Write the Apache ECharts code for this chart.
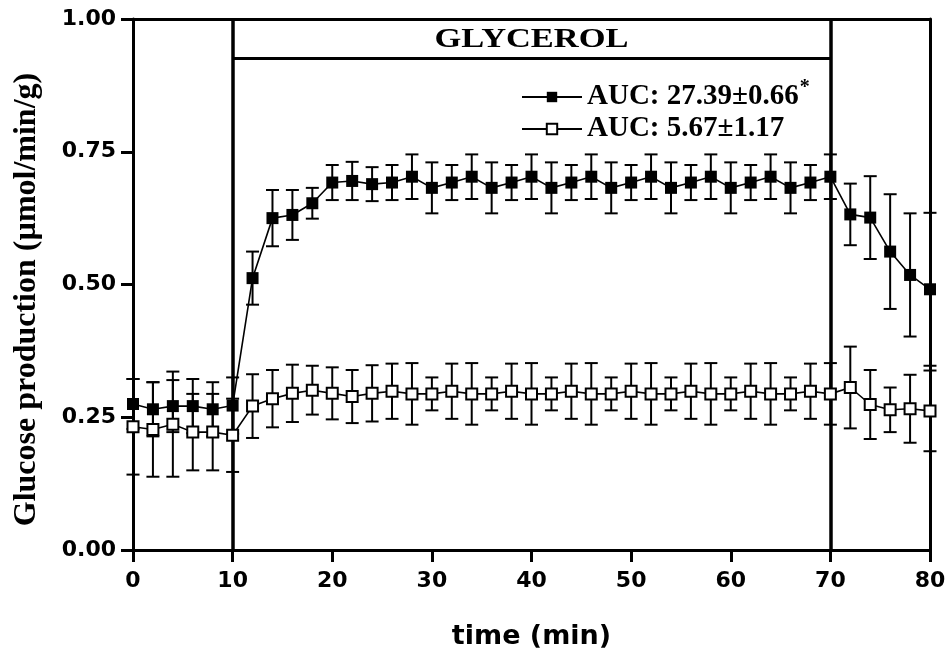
<!DOCTYPE html>
<html>
<head>
<meta charset="utf-8">
<script src="https://cdn.jsdelivr.net/npm/echarts@6/dist/echarts.min.js"></script>
<style>html,body{margin:0;padding:0;background:#fff;}#chart{width:950px;height:656px;}</style>
</head>
<body>
<div id="chart"></div>
<script>
// ---- data ----
var times = [0,2,4,6,8,10,12,14,16,18,20,22,24,26,28,30,32,34,36,38,40,42,44,46,48,50,52,54,56,58,60,62,64,66,68,70,72,74,76,78,80];
var glycerolMean = [0.275,0.265,0.271,0.271,0.265,0.272,0.512,0.625,0.631,0.653,0.692,0.695,0.689,0.692,
  0.703,0.682,0.692,0.703,0.682,0.692,0.703,0.682,0.692,0.703,0.682,0.692,0.703,0.682,0.692,0.703,0.682,0.692,0.703,0.682,0.692,0.703,
  0.632,0.626,0.562,0.518,0.491];
var glycerolErr = [0.047,0.051,0.049,0.051,0.051,0.053,0.050,0.053,0.047,0.029,0.033,0.036,0.032,0.033,
  0.042,0.048,0.033,0.042,0.048,0.033,0.042,0.048,0.033,0.042,0.048,0.033,0.042,0.048,0.033,0.042,0.048,0.033,0.042,0.048,0.033,0.042,
  0.058,0.078,0.108,0.116,0.144];
var controlMean = [0.232,0.227,0.237,0.222,0.222,0.216,0.271,0.285,0.295,0.301,0.295,0.289,0.295,0.299,
  0.294,0.294,0.299,0.294,0.294,0.299,0.294,0.294,0.299,0.294,0.294,0.299,0.294,0.294,0.299,0.294,0.294,0.299,0.294,0.294,0.299,0.294,
  0.306,0.274,0.264,0.266,0.262];
var controlErr = [0.090,0.089,0.099,0.072,0.072,0.069,0.060,0.054,0.054,0.046,0.049,0.050,0.053,0.052,
  0.058,0.031,0.052,0.058,0.031,0.052,0.058,0.031,0.052,0.058,0.031,0.052,0.058,0.031,0.052,0.058,0.031,0.052,0.058,0.031,0.052,0.058,
  0.077,0.065,0.042,0.064,0.076];
var seriesNames = ['AUC: 27.39\u00b10.66', 'AUC: 5.67\u00b11.17'];
var xTicks = {min: 0, max: 80, interval: 10};
var yTicks = {min: 0, max: 1, interval: 0.25};
var glycerolStart = 10, glycerolEnd = 70, glycerolBarLevel = 0.9266;
var glycerolLabel = 'GLYCEROL';
var xName = 'time (min)';
var yName = 'Glucose production (\u00b5mol/min/g)';

// ---- build ----
function pairs(xs, ys) { return xs.map(function (x, i) { return [x, ys[i]]; }); }
function errData(xs, m, e) { return xs.map(function (x, i) { return [x, m[i] - e[i], m[i] + e[i]]; }); }

var SANS = 'DejaVu Sans';
var SERIF = 'Liberation Serif';

function errRender(params, api) {
  var x = api.value(0);
  var lo = api.coord([x, api.value(1)]);
  var hi = api.coord([x, api.value(2)]);
  var hw = 6.5;
  var st = {stroke: '#000', lineWidth: 2};
  return {
    type: 'group',
    children: [
      {type: 'line', shape: {x1: lo[0], y1: lo[1], x2: hi[0], y2: hi[1]}, style: st},
      {type: 'line', shape: {x1: lo[0] - hw, y1: lo[1], x2: lo[0] + hw, y2: lo[1]}, style: st},
      {type: 'line', shape: {x1: hi[0] - hw, y1: hi[1], x2: hi[0] + hw, y2: hi[1]}, style: st}
    ]
  };
}

var chart = echarts.init(document.getElementById('chart'), null, {renderer: 'canvas'});
var option = {
  animation: false,
  backgroundColor: '#fff',
  grid: {left: 133, right: 20, top: 19, bottom: 106, containLabel: false},
  xAxis: [{
    type: 'value', min: xTicks.min, max: xTicks.max, interval: xTicks.interval,
    name: xName, nameLocation: 'middle', nameGap: 73,
    nameTextStyle: {fontFamily: SANS, fontWeight: 'bold', fontSize: 27, color: '#000'},
    axisLine: {show: true, onZero: false, lineStyle: {color: '#000', width: 3}},
    axisTick: {show: true, inside: false, length: 12, lineStyle: {color: '#000', width: 3}},
    axisLabel: {show: true, margin: 20, fontFamily: SANS, fontWeight: 'bold', fontSize: 22, color: '#000'},
    splitLine: {show: false}
  }, {
    type: 'value', position: 'top', min: xTicks.min, max: xTicks.max, interval: xTicks.interval,
    axisLine: {show: true, onZero: false, lineStyle: {color: '#000', width: 3}},
    axisTick: {show: false}, axisLabel: {show: false}, splitLine: {show: false}
  }],
  yAxis: [{
    type: 'value', min: yTicks.min, max: yTicks.max, interval: yTicks.interval,
    name: yName, nameLocation: 'middle', nameGap: 90, nameRotate: 90,
    nameTextStyle: {fontFamily: SERIF, fontWeight: 'bold', fontSize: 32, color: '#000', padding: [0, 30, 0, 0]},
    axisLine: {show: true, onZero: false, lineStyle: {color: '#000', width: 3}},
    axisTick: {show: true, inside: false, length: 12, lineStyle: {color: '#000', width: 3}},
    axisLabel: {show: true, margin: 17, fontFamily: SANS, fontWeight: 'bold', fontSize: 22, color: '#000',
      formatter: function (v) { return v.toFixed(2); }},
    splitLine: {show: false}
  }, {
    type: 'value', position: 'right', min: yTicks.min, max: yTicks.max, interval: yTicks.interval,
    axisLine: {show: true, onZero: false, lineStyle: {color: '#000', width: 3}},
    axisTick: {show: false}, axisLabel: {show: false}, splitLine: {show: false}
  }],
  legend: {
    show: true, orient: 'vertical', left: 516, top: 73, itemWidth: 60, itemHeight: 13, itemGap: 3,
    data: seriesNames,
    textStyle: {fontFamily: SERIF, fontWeight: 'bold', fontSize: 29, color: '#000',
      rich: {sup: {fontFamily: SERIF, fontWeight: 'bold', fontSize: 20, color: '#000', padding: [0, 0, 18, 1]}}},
    formatter: function (name) { return name === seriesNames[0] ? name + '{sup|*}' : name; },
    selectedMode: false
  },
  series: [
    {
      type: 'custom', name: 'glycerolErr', renderItem: errRender, silent: true, z: 2,
      encode: {x: 0, y: [1, 2]}, data: errData(times, glycerolMean, glycerolErr)
    },
    {
      type: 'custom', name: 'controlErr', renderItem: errRender, silent: true, z: 2,
      encode: {x: 0, y: [1, 2]}, data: errData(times, controlMean, controlErr)
    },
    {
      type: 'line', name: seriesNames[0], data: pairs(times, glycerolMean), z: 4,
      symbol: 'rect', symbolSize: 12, showSymbol: true, clip: false,
      lineStyle: {color: '#000', width: 1.6},
      itemStyle: {color: '#000', borderColor: '#000', borderWidth: 0},
      emphasis: {disabled: true},
      markLine: {
        silent: true, symbol: ['none', 'none'], animation: false,
        lineStyle: {color: '#000', width: 3.5, type: 'solid'},
        label: {show: false},
        emphasis: {disabled: true},
        data: [
          {xAxis: glycerolStart},
          {xAxis: glycerolEnd},
          [{coord: [glycerolStart, glycerolBarLevel], lineStyle: {width: 3}}, {coord: [glycerolEnd, glycerolBarLevel]}]
        ]
      }
    },
    {
      type: 'line', name: seriesNames[1], data: pairs(times, controlMean), z: 5,
      symbol: 'rect', symbolSize: 11, showSymbol: true, clip: false,
      lineStyle: {color: '#000', width: 1.6},
      itemStyle: {color: '#fff', borderColor: '#000', borderWidth: 2},
      emphasis: {disabled: true}
    }
  ]
};
chart.setOption(option);

// Put the GLYCEROL label above the bar, centred between its ends (positions from the axes' scales)
var cx = (chart.convertToPixel({xAxisIndex: 0}, glycerolStart) + chart.convertToPixel({xAxisIndex: 0}, glycerolEnd)) / 2;
var barY = chart.convertToPixel({yAxisIndex: 0}, glycerolBarLevel);
var topY = chart.convertToPixel({yAxisIndex: 0}, yTicks.max);
chart.setOption({
  graphic: [{
    type: 'text', x: cx, y: (barY + topY) / 2 + 1, scaleX: 1.23, silent: true,
    style: {text: glycerolLabel, fontFamily: SERIF, fontWeight: 'bold', fontSize: 28, fill: '#000',
      align: 'center', verticalAlign: 'middle'}
  }]
});
</script>
</body>
</html>
